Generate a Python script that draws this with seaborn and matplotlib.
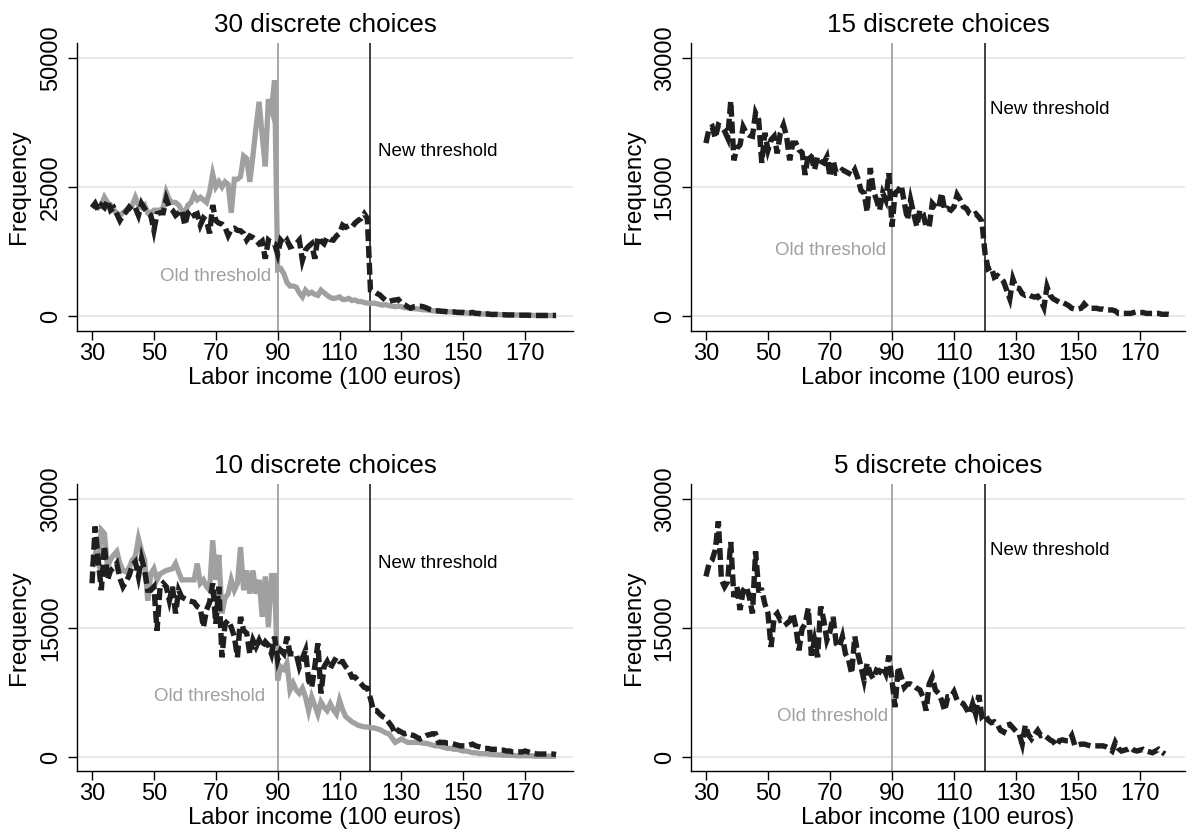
import matplotlib
matplotlib.use("Agg")
import matplotlib.pyplot as plt
import seaborn as sns
import pandas as pd

# Labor income bins (100 euros)
income = list(range(30, 181))

# Frequencies, 30 discrete choices
old_30 = [21000, 21500, 21000, 21500, 23000, 22000, 21500, 20500, 20000, 19500,
          20000, 20500, 21000, 21500, 23000, 21500, 21000, 21500, 20000, 20000,
          20500, 20500, 20500, 21000, 24000, 22500, 22000, 22000, 21500, 20500,
          20000, 21500, 22000, 23500, 22500, 23000, 22500, 22000, 24000, 27500,
          25000, 26000, 25000, 26000, 25500, 20000, 26500, 26500, 27000, 31000,
          30500, 26000, 31000, 36500, 41500, 35000, 29000, 42000, 40000, 45700,
          9000, 9200, 8200, 6500, 5800, 5800, 5600, 4500, 3700, 5000,
          4300, 4600, 4200, 4000, 5000, 4500, 4000, 3600, 3400, 3500,
          3700, 3200, 3200, 3400, 3000, 3100, 2800, 2800, 2600, 2500,
          2400, 2500, 2400, 2200, 2100, 2200, 2000, 1900, 1800, 1900,
          1800, 1600, 1600, 1500, 1400, 1400, 1300, 1200, 1200, 1100,
          1000, 1000, 900, 900, 800, 800, 800, 700, 700, 600,
          600, 600, 500, 500, 500, 400, 400, 400, 350, 300,
          300, 300, 250, 250, 250, 200, 200, 200, 200, 150,
          150, 150, 150, 100, 100, 100, 100, 100, 100, 100,
          100]
new_30 = [21000, 21800, 20500, 21500, 21000, 22400, 20500, 21000, 19800, 18500,
          19500, 20200, 21100, 20500, 21000, 19500, 21800, 20800, 20000, 19500,
          16600, 19800, 20000, 20000, 22700, 21000, 20500, 19500, 20000, 20500,
          17600, 20000, 20500, 19500, 19800, 17600, 19000, 18500, 16000, 21500,
          18500, 18000, 17800, 17200, 15600, 16800, 17000, 16600, 16500, 16000,
          14700, 15500, 15200, 14700, 14000, 14500, 11100, 14700, 14200, 14000,
          12000, 14700, 14000, 14700, 13400, 13600, 14000, 14700, 10800, 12800,
          13500, 14000, 11100, 15300, 14500, 14000, 15300, 14800, 14700, 15500,
          16000, 17600, 17200, 17500, 17200, 18000, 18500, 18900, 19800, 18900,
          5000, 4800, 4400, 4100, 3500, 3000, 2800, 3000, 3100, 3200,
          2500, 2200, 1800, 1500, 1800, 1900, 1900, 1800, 1600, 1300,
          1200, 1000, 1000, 900, 900, 800, 800, 800, 700, 700,
          700, 600, 600, 700, 500, 500, 400, 400, 400, 300,
          300, 300, 250, 250, 200, 200, 200, 200, 150, 150,
          150, 150, 100, 100, 100, 100, 100, 100, 100, 100,
          100]

# Frequencies, 15 discrete choices
new_15 = [20100, 21800, 22000, 20700, 22200, 22000, 21500, 20700, 25000, 18100,
          19500, 19900, 22000, 21300, 21000, 20900, 23600, 22800, 17800, 21300,
          19300, 20500, 20900, 18900, 21300, 22200, 20900, 18100, 20100, 20100,
          19300, 19000, 16400, 18900, 18500, 17000, 18500, 18000, 17800, 18500,
          16200, 18100, 16600, 16600, 17000, 16800, 16600, 16400, 17000, 16000,
          14600, 14300, 12100, 17200, 14600, 13500, 12300, 14300, 13500, 16600,
          10400, 14300, 14600, 15200, 13100, 11200, 13500, 11900, 10400, 12300,
          11900, 10400, 10400, 13100, 12700, 12500, 14300, 12300, 12500, 12300,
          12700, 14100, 13500, 12700, 12500, 11900, 11700, 11900, 11500, 11000,
          7300, 5500, 5700, 4500, 4700, 4400, 4000, 3000, 2000, 4300,
          3300, 3200, 2600, 2400, 2500, 2300, 2200, 2300, 1800, 1000,
          3400, 2400, 2000, 1800, 1600, 1600, 1400, 1200, 900, 800,
          800, 900, 1400, 1000, 900, 900, 900, 800, 800, 700,
          700, 700, 600, 300, 300, 300, 300, 300, 400, 500,
          400, 400, 300, 300, 300, 300, 300, 200, 200, 200,
          150]

# Frequencies, 10 discrete choices
old_10 = [22100, 23500, 22500, 26400, 26000, 22100, 23000, 23500, 23900, 22500,
          21700, 21500, 22000, 22900, 23300, 25400, 24000, 22900, 18200, 21300,
          21900, 20600, 21300, 21500, 21700, 21800, 21900, 22500, 21500, 20600,
          20600, 20600, 20600, 20600, 22500, 20200, 20600, 19800, 19400, 25200,
          20600, 23500, 16700, 18500, 19000, 20600, 19400, 20200, 24400, 19400,
          21700, 19000, 21700, 19000, 20600, 16300, 21000, 15100, 21100, 21100,
          8900, 10500, 10200, 10900, 7800, 8600, 7800, 7400, 8000, 7000,
          5400, 7000, 6000, 5000, 6400, 5800, 5400, 6200, 5500, 5000,
          6600, 5500, 4700, 4400, 4100, 3900, 3700, 3600, 3500, 3500,
          3400, 3400, 3300, 3200, 3000, 2800, 2700, 2200, 1700, 1900,
          2100, 1900, 1700, 1700, 1700, 1700, 1700, 1600, 1600, 1500,
          1400, 1300, 1300, 1200, 1100, 1000, 1000, 900, 900, 800,
          700, 700, 600, 500, 500, 400, 400, 400, 350, 300,
          300, 250, 250, 200, 200, 200, 200, 150, 150, 150,
          150, 150, 150, 100, 100, 100, 100, 100, 100, 100,
          100]
new_10 = [20200, 26800, 22900, 19400, 24600, 20600, 21700, 22000, 22500, 20800,
          19800, 20400, 21100, 22300, 22700, 21000, 23100, 21700, 19400, 19400,
          19800, 14700, 19800, 20200, 19800, 18200, 19800, 16700, 19400, 18600,
          18400, 18200, 18100, 18000, 17500, 17300, 15100, 17100, 18000, 20200,
          15500, 19800, 11600, 15500, 15900, 15100, 14000, 11600, 16300, 14700,
          14400, 12000, 13600, 12800, 13600, 12800, 13400, 13000, 12000, 14000,
          11300, 12400, 12000, 14000, 12000, 12000, 12000, 10500, 11500, 12400,
          8900, 8100, 10500, 13200, 7400, 10500, 11100, 10300, 11000, 11600,
          11100, 11100, 10500, 10100, 9300, 9300, 8900, 8500, 8100, 8000,
          6800, 5400, 5400, 5000, 4700, 4500, 4000, 3500, 2700, 3100,
          2900, 2700, 2800, 2600, 2500, 2300, 2100, 2300, 2500, 2600,
          2700, 2700, 1700, 1700, 1700, 1600, 1600, 1500, 1400, 1300,
          1300, 1300, 1400, 1500, 1300, 1200, 1100, 1000, 1000, 900,
          900, 900, 800, 800, 700, 700, 600, 600, 600, 600,
          700, 600, 500, 400, 350, 350, 350, 350, 350, 350,
          300]

# Frequencies, 5 discrete choices (bins 30..178)
new_5 = [21000, 22500, 22900, 24100, 27400, 20600, 19800, 20400, 25000, 18600,
         19800, 17100, 19400, 19800, 18600, 16700, 23900, 19400, 19400, 17800,
         16700, 12800, 16300, 16700, 15900, 16000, 15500, 15800, 16700, 15100,
         12400, 14900, 15500, 17300, 11800, 13600, 11600, 17500, 15900, 13600,
         14600, 16300, 13200, 12800, 14000, 12000, 11300, 9700, 14000, 12000,
         10500, 8900, 10900, 9700, 9100, 10100, 9900, 10500, 9700, 11800,
         8900, 5800, 10500, 9300, 8100, 8500, 8500, 8300, 8000, 7800,
         7000, 5400, 8500, 9300, 7800, 7400, 6600, 5400, 7000, 7000,
         7600, 6600, 6400, 6200, 5600, 5000, 6200, 5000, 7200, 4700,
         5000, 4300, 4000, 4100, 3800, 3100, 2900, 3700, 3800, 3400,
         3000, 2700, 1500, 3700, 2600, 2100, 2600, 3100, 2500, 2600,
         2300, 2000, 1800, 1300, 1900, 2000, 1900, 1900, 2500, 1300,
         1400, 1500, 1500, 1400, 1300, 1300, 1300, 1300, 1300, 1200,
         1000, 700, 1700, 1000, 700, 800, 900, 1100, 800, 700,
         800, 900, 700, 600, 500, 700, 900, 600, 350]

titles = ["30 discrete choices", "15 discrete choices",
          "10 discrete choices", "5 discrete choices"]
old_threshold = 90
new_threshold = 120
x_ticks = [30, 50, 70, 90, 110, 130, 150, 170]

OLD_GRAY = "#a0a0a0"
NEW_BLACK = "#1f1f1f"
FONT = ["Liberation Sans", "DejaVu Sans"]

sns.set_theme(style="white")
plt.rcParams["font.family"] = FONT

fig = plt.figure(figsize=(11.87, 8.39), dpi=100)

panels = [
    dict(title=titles[0], old=old_30, new=new_30, yticks=[0, 25000, 50000],
         ylim=(-2907, 52907), rect=[0.0649, 0.6055, 0.4179, 0.3433],
         xlim=(25.15, 185.5), new_pos=(122.3, 31800), old_pos=(87.9, 7560)),
    dict(title=titles[1], old=None, new=new_15, yticks=[0, 15000, 30000],
         ylim=(-1744, 31744), rect=[0.5821, 0.6055, 0.4162, 0.3433],
         xlim=(25.16, 184.5), new_pos=(121.5, 23950), old_pos=(88.2, 7670)),
    dict(title=titles[2], old=old_10, new=new_10, yticks=[0, 15000, 30000],
         ylim=(-1628, 31744), rect=[0.0649, 0.0810, 0.4179, 0.3421],
         xlim=(25.15, 185.5), new_pos=(122.3, 22560), old_pos=(85.9, 7010)),
    dict(title=titles[3], old=None, new=new_5, yticks=[0, 15000, 30000],
         ylim=(-1628, 31744), rect=[0.5821, 0.0810, 0.4162, 0.3421],
         xlim=(25.16, 184.5), new_pos=(121.5, 24070), old_pos=(88.7, 4770)),
]

for p in panels:
    ax = fig.add_axes(p["rect"])
    ax.set_axisbelow(True)

    # Threshold markers behind the series
    ax.axvline(old_threshold, color=OLD_GRAY, lw=1.3, zorder=1)
    ax.axvline(new_threshold, color="#333333", lw=1.3, zorder=1)

    if p["old"] is not None:
        d_old = pd.DataFrame({"income": income[:len(p["old"])], "freq": p["old"]})
        sns.lineplot(data=d_old, x="income", y="freq", ax=ax, color=OLD_GRAY,
                     linewidth=3.8, estimator=None, errorbar=None, sort=False,
                     zorder=3)
        ln = ax.lines[-1]
        ln.set_solid_joinstyle("miter")
        ln.set_solid_capstyle("butt")

    d_new = pd.DataFrame({"income": income[:len(p["new"])], "freq": p["new"]})
    sns.lineplot(data=d_new, x="income", y="freq", ax=ax, color=NEW_BLACK,
                 linewidth=3.9, estimator=None, errorbar=None, sort=False,
                 zorder=4)
    ln = ax.lines[-1]
    ln.set_dashes((2.2, 0.9))
    ln.set_dash_joinstyle("miter")
    ln.set_dash_capstyle("butt")

    ax.set_xlim(*p["xlim"])
    ax.set_ylim(*p["ylim"])
    ax.set_xticks(x_ticks)
    ax.set_xticklabels([str(v) for v in x_ticks])
    ax.set_yticks(p["yticks"])
    ax.set_yticklabels([str(v) for v in p["yticks"]])

    ax.yaxis.grid(True, color="#e6e6e6", lw=1.3)
    ax.xaxis.grid(False)

    for side in ["top", "right"]:
        ax.spines[side].set_visible(False)
    for side in ["left", "bottom"]:
        ax.spines[side].set_color("black")
        ax.spines[side].set_linewidth(1.0)

    ax.tick_params(axis="both", which="major", direction="out", length=6.5,
                   width=1.0, color="black", labelsize=17, labelcolor="black",
                   bottom=True, left=True)
    ax.tick_params(axis="x", pad=2.0)
    ax.tick_params(axis="y", pad=4.5, labelrotation=90)
    for lbl in ax.get_yticklabels():
        lbl.set_verticalalignment("center")

    ax.set_xlabel("Labor income (100 euros)", fontsize=17.2, color="black")
    ax.set_ylabel("Frequency", fontsize=17.5, color="black")
    ax.xaxis.set_label_coords(0.5, -0.125)
    ax.yaxis.set_label_coords(-0.094, 0.5)
    ax.set_title(p["title"], fontsize=18.7, color="black", pad=8)

    ax.text(p["new_pos"][0], p["new_pos"][1], "New threshold", fontsize=13.5,
            color="black", ha="left", va="center")
    ax.text(p["old_pos"][0], p["old_pos"][1], "Old threshold", fontsize=13.5,
            color=OLD_GRAY, ha="right", va="center")

fig.savefig("out.png", dpi=100, facecolor="white")
